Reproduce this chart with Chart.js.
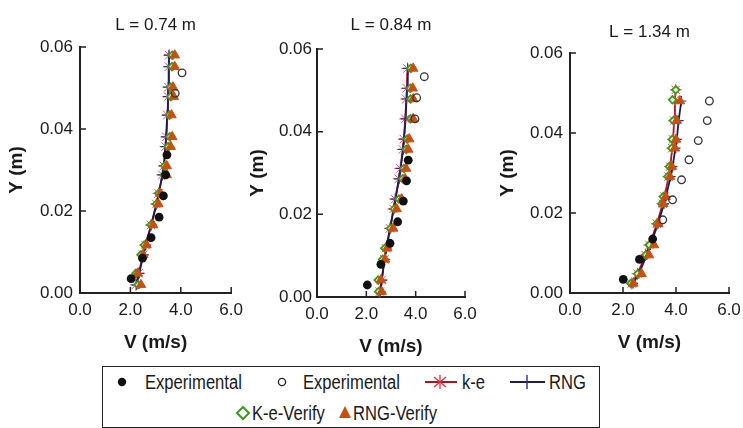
<!DOCTYPE html>
<html>
<head>
<meta charset="utf-8">
<script src="https://cdn.jsdelivr.net/npm/chart.js@4/dist/chart.umd.min.js"></script>
<style>
  html,body{margin:0;padding:0;background:#fff}
  #wrap{position:relative;width:743px;height:428px;overflow:hidden;background:#fff;
        font-family:'Liberation Sans',Arial,sans-serif;color:#1a1a1a}
  canvas{position:absolute;top:0}
  #lgBox{position:absolute;left:102px;top:366px;width:498px;height:62px;border:1.5px solid #222;box-sizing:border-box}
  .lg{position:absolute;font-size:20px;line-height:24px;white-space:nowrap;transform:scaleX(0.83);transform-origin:0 50%}
  #lgMarks{position:absolute;left:0;top:0;pointer-events:none}
</style>
</head>
<body>
<div id="wrap">
  <canvas id="c1" width="250" height="360" style="left:0;width:250px;height:360px"></canvas>
  <canvas id="c2" width="250" height="360" style="left:240px;width:250px;height:360px"></canvas>
  <canvas id="c3" width="260" height="360" style="left:490px;width:260px;height:360px"></canvas>

  <div id="lgBox"></div>
  <span class="lg" style="left:145px;top:370px">Experimental</span>
  <span class="lg" style="left:303px;top:370px">Experimental</span>
  <span class="lg" style="left:462px;top:370px">k-e</span>
  <span class="lg" style="left:549px;top:370px">RNG</span>
  <span class="lg" style="left:252px;top:401px">K-e-Verify</span>
  <span class="lg" style="left:353px;top:401px">RNG-Verify</span>
  <svg id="lgMarks" width="743" height="428">
    <circle cx="122" cy="382" r="4.2" fill="#111"/>
    <circle cx="282" cy="382" r="3.6" fill="none" stroke="#222" stroke-width="1.3"/>
    <line x1="425" y1="382" x2="457" y2="382" stroke="#b3121f" stroke-width="2"/>
    <g stroke="#e0303e" stroke-width="1.3">
      <line x1="440" y1="375" x2="440" y2="389"/>
      <line x1="434" y1="377" x2="446" y2="387"/>
      <line x1="434" y1="387" x2="446" y2="377"/>
    </g>
    <line x1="510" y1="382" x2="545" y2="382" stroke="#1c1c50" stroke-width="2"/>
    <line x1="527" y1="375" x2="527" y2="389" stroke="#2a2a90" stroke-width="1.4"/>
    <polygon points="243,407 249,413 243,419 237,413" fill="#fff" stroke="#3c9a1e" stroke-width="2"/>
    <polygon points="345,406 351,418 339,418" fill="#c8500f"/>
  </svg>
</div>

<script>
/* ---------- datos (V en m/s, Y en m) ---------- */
const xTicks = [0, 2, 4, 6];
const yTicks = [0, 0.02, 0.04, 0.06];
const titles = ['L = 0.74 m', 'L = 0.84 m', 'L = 1.34 m'];

// L = 0.74 m
const p1ExpY    = [0.0035, 0.0085, 0.0135, 0.0185, 0.0237, 0.0288, 0.0337];
const p1ExpV    = [2.03, 2.48, 2.82, 3.14, 3.31, 3.40, 3.45];
const p1OpenY   = [0.0487, 0.0537];
const p1OpenV   = [3.78, 4.05];
const p1ModelY  = [0.0020, 0.0048, 0.0093, 0.0117, 0.0166, 0.0217, 0.0243, 0.0288, 0.0310, 0.0357, 0.0381, 0.0434, 0.0479, 0.0502, 0.0552, 0.0580];
const p1Ke      = [2.22, 2.33, 2.50, 2.60, 2.82, 3.03, 3.12, 3.27, 3.33, 3.40, 3.43, 3.47, 3.50, 3.51, 3.53, 3.54];
const p1Rng     = [2.24, 2.35, 2.52, 2.61, 2.83, 3.04, 3.13, 3.27, 3.33, 3.39, 3.42, 3.46, 3.49, 3.50, 3.52, 3.53];
const p1KeVer   = [2.30, 2.22, 2.42, 2.55, 2.82, 3.03, 3.12, 3.35, 3.36, 3.50, 3.56, 3.55, 3.60, 3.60, 3.65, 3.66];
const p1RngVer  = [2.42, 2.29, 2.51, 2.64, 2.90, 3.11, 3.19, 3.44, 3.44, 3.60, 3.66, 3.63, 3.72, 3.69, 3.76, 3.76];

// L = 0.84 m
const p2ExpY    = [0.0029, 0.0079, 0.0130, 0.0182, 0.0232, 0.0281, 0.0331];
const p2ExpV    = [2.04, 2.59, 2.96, 3.27, 3.50, 3.63, 3.70];
const p2OpenY   = [0.0431, 0.0482, 0.0533];
const p2OpenV   = [3.97, 4.04, 4.35];
const p2ModelY  = [0.0013, 0.0041, 0.0091, 0.0118, 0.0166, 0.0213, 0.0237, 0.0286, 0.0311, 0.0357, 0.0382, 0.0431, 0.0479, 0.0505, 0.0553];
const p2Ke      = [2.55, 2.62, 2.73, 2.80, 2.96, 3.10, 3.17, 3.32, 3.38, 3.48, 3.52, 3.58, 3.62, 3.64, 3.67];
const p2Rng     = [2.56, 2.63, 2.74, 2.81, 2.97, 3.11, 3.18, 3.33, 3.39, 3.49, 3.53, 3.59, 3.63, 3.65, 3.68];
const p2KeVer   = [2.50, 2.48, 2.66, 2.75, 2.98, 3.13, 3.32, 3.47, 3.52, 3.62, 3.66, 3.80, 3.80, 3.78, 3.80];
const p2RngVer  = [2.62, 2.59, 2.76, 2.85, 3.09, 3.23, 3.43, 3.57, 3.61, 3.70, 3.74, 3.90, 3.90, 3.88, 3.90];

// L = 1.34 m
const p3ExpY    = [0.0034, 0.0084, 0.0135];
const p3ExpV    = [2.01, 2.62, 3.12];
const p3OpenY   = [0.0183, 0.0233, 0.0283, 0.0333, 0.0381, 0.0431, 0.0480];
const p3OpenV   = [3.50, 3.87, 4.21, 4.49, 4.84, 5.18, 5.26];
const p3KeY     = [0.0024, 0.0048, 0.0095, 0.0120, 0.0173, 0.0223, 0.0241, 0.0291, 0.0316, 0.0362, 0.0384, 0.0431, 0.0483, 0.0508];
const p3Ke      = [2.33, 2.55, 2.85, 3.00, 3.28, 3.50, 3.57, 3.72, 3.78, 3.86, 3.89, 3.93, 3.96, 3.99];
const p3KeVer   = [2.30, 2.55, 2.86, 2.99, 3.27, 3.46, 3.52, 3.69, 3.75, 3.84, 3.86, 3.90, 3.87, 3.99];
const p3RngY    = [0.0024, 0.0048, 0.0095, 0.0120, 0.0173, 0.0223, 0.0241, 0.0291, 0.0316, 0.0362, 0.0384, 0.0431, 0.0480];
const p3Rng     = [2.38, 2.60, 2.90, 3.04, 3.32, 3.55, 3.62, 3.80, 3.87, 3.98, 4.03, 4.10, 4.20];
const p3RngVer  = [2.39, 2.70, 2.98, 3.17, 3.33, 3.52, 3.61, 3.77, 3.84, 3.96, 4.00, 4.03, 4.15];

/* ---------- estilo ---------- */
const FONT = "'Liberation Sans',Arial,sans-serif";
const INK = '#1a1a1a';
Chart.defaults.font.family = FONT;
Chart.defaults.color = INK;

const pts = (ys, vs) => vs.map((v, i) => ({x: v, y: ys[i]}));

// marcas de eje hacia adentro
const inwardTicks = {
  id: 'inwardTicks',
  beforeDatasetsDraw(chart) {
    const {ctx, scales: {x, y}} = chart;
    ctx.save();
    ctx.strokeStyle = '#222';
    ctx.lineWidth = 1.5;
    ctx.beginPath();
    x.ticks.forEach(t => { const px = x.getPixelForValue(t.value); ctx.moveTo(px, y.bottom); ctx.lineTo(px, y.bottom - 6); });
    y.ticks.forEach(t => { const py = y.getPixelForValue(t.value); ctx.moveTo(x.left, py); ctx.lineTo(x.left + 6, py); });
    ctx.stroke();
    ctx.restore();
  }
};

function panel(id, g, d) {
  return new Chart(document.getElementById(id), {
    type: 'scatter',
    data: {datasets: [
      {label: 'Experimental', data: pts(d.expY, d.expV), order: 0,
       pointStyle: 'circle', pointRadius: 4.4, backgroundColor: '#111', borderColor: '#111', borderWidth: 0},
      {label: 'Experimental', data: pts(d.openY, d.openV), order: 1,
       pointStyle: 'circle', pointRadius: 3.8, backgroundColor: 'rgba(255,255,255,0)', borderColor: '#333', borderWidth: 1.3},
      {label: 'k-e', data: pts(d.keY, d.ke), order: 5, showLine: true, tension: 0,
       borderColor: '#b3121f', borderWidth: 1.8, pointStyle: 'star', pointRadius: 6,
       pointBorderColor: '#e8505c', pointBorderWidth: 1, pointBackgroundColor: 'rgba(0,0,0,0)'},
      {label: 'RNG', data: pts(d.rngY, d.rng), order: 4, showLine: true, tension: 0,
       borderColor: '#1c1c50', borderWidth: 1.8, pointStyle: 'cross', pointRadius: 5,
       pointBorderColor: '#2a2a90', pointBorderWidth: 1.2, pointBackgroundColor: 'rgba(0,0,0,0)'},
      {label: 'K-e-Verify', data: pts(d.keY, d.keVer), order: 3,
       pointStyle: 'rectRot', pointRadius: 3.8, backgroundColor: 'rgba(240,250,210,0.9)', borderColor: '#3c9a1e', borderWidth: 1.8},
      {label: 'RNG-Verify', data: pts(d.rngY, d.rngVer), order: 2,
       pointStyle: 'triangle', pointRadius: 5.5, backgroundColor: '#c8500f', borderColor: '#c8500f', borderWidth: 1}
    ]},
    options: {
      responsive: false, animation: false, clip: false,
      events: [],
      layout: {padding: {left: 0, top: 0, right: g.padR, bottom: 0}},
      plugins: {
        legend: {display: false}, tooltip: {enabled: false},
        title: {display: true, text: d.title, fullSize: false, color: INK,
                font: {size: 17, weight: 'normal'}, padding: {top: g.tT, bottom: g.tB}}
      },
      scales: {
        x: {type: 'linear', min: 0, max: 6,
            afterBuildTicks: s => { s.ticks = xTicks.map(v => ({value: v})); },
            afterFit: s => { s.height = g.xH; },
            grid: {display: false, drawTicks: false},
            border: {display: true, color: '#222', width: 2},
            ticks: {padding: 7, color: INK, font: {size: 17}, callback: v => v.toFixed(1)},
            title: {display: true, text: 'V (m/s)', color: INK, font: {size: 19, weight: 'bold'}, padding: {top: 0, bottom: g.xtB}}},
        y: {type: 'linear', min: 0, max: 0.06,
            afterBuildTicks: s => { s.ticks = yTicks.map(v => ({value: v})); },
            afterFit: s => { s.width = g.yW; },
            grid: {display: false, drawTicks: false},
            border: {display: true, color: '#222', width: 2},
            ticks: {padding: g.yPad, color: INK, font: {size: 17}, callback: v => v.toFixed(2)},
            title: {display: true, text: 'Y (m)', color: INK, font: {size: 19, weight: 'bold'}, padding: {top: g.ytT, bottom: 0}}}
      }
    },
    plugins: [inwardTicks]
  });
}

panel('c1', {padR: 17, tT: 14.8, tB: 11.8, xH: 67, xtB: 5.6, yW: 80, yPad: 7, ytT: 5.6}, {
  title: titles[0], expY: p1ExpY, expV: p1ExpV, openY: p1OpenY, openV: p1OpenV,
  keY: p1ModelY, ke: p1Ke, rngY: p1ModelY, rng: p1Rng, keVer: p1KeVer, rngVer: p1RngVer});
panel('c2', {padR: 25, tT: 14.8, tB: 13.8, xH: 63, xtB: 1.6, yW: 77, yPad: 5, ytT: 6.6}, {
  title: titles[1], expY: p2ExpY, expV: p2ExpV, openY: p2OpenY, openV: p2OpenV,
  keY: p2ModelY, ke: p2Ke, rngY: p2ModelY, rng: p2Rng, keVer: p2KeVer, rngVer: p2RngVer});
panel('c3', {padR: 21, tT: 21.8, tB: 10.8, xH: 67, xtB: 5.6, yW: 80, yPad: 7, ytT: 6.6}, {
  title: titles[2], expY: p3ExpY, expV: p3ExpV, openY: p3OpenY, openV: p3OpenV,
  keY: p3KeY, ke: p3Ke, rngY: p3RngY, rng: p3Rng, keVer: p3KeVer, rngVer: p3RngVer});
</script>
</body>
</html>
